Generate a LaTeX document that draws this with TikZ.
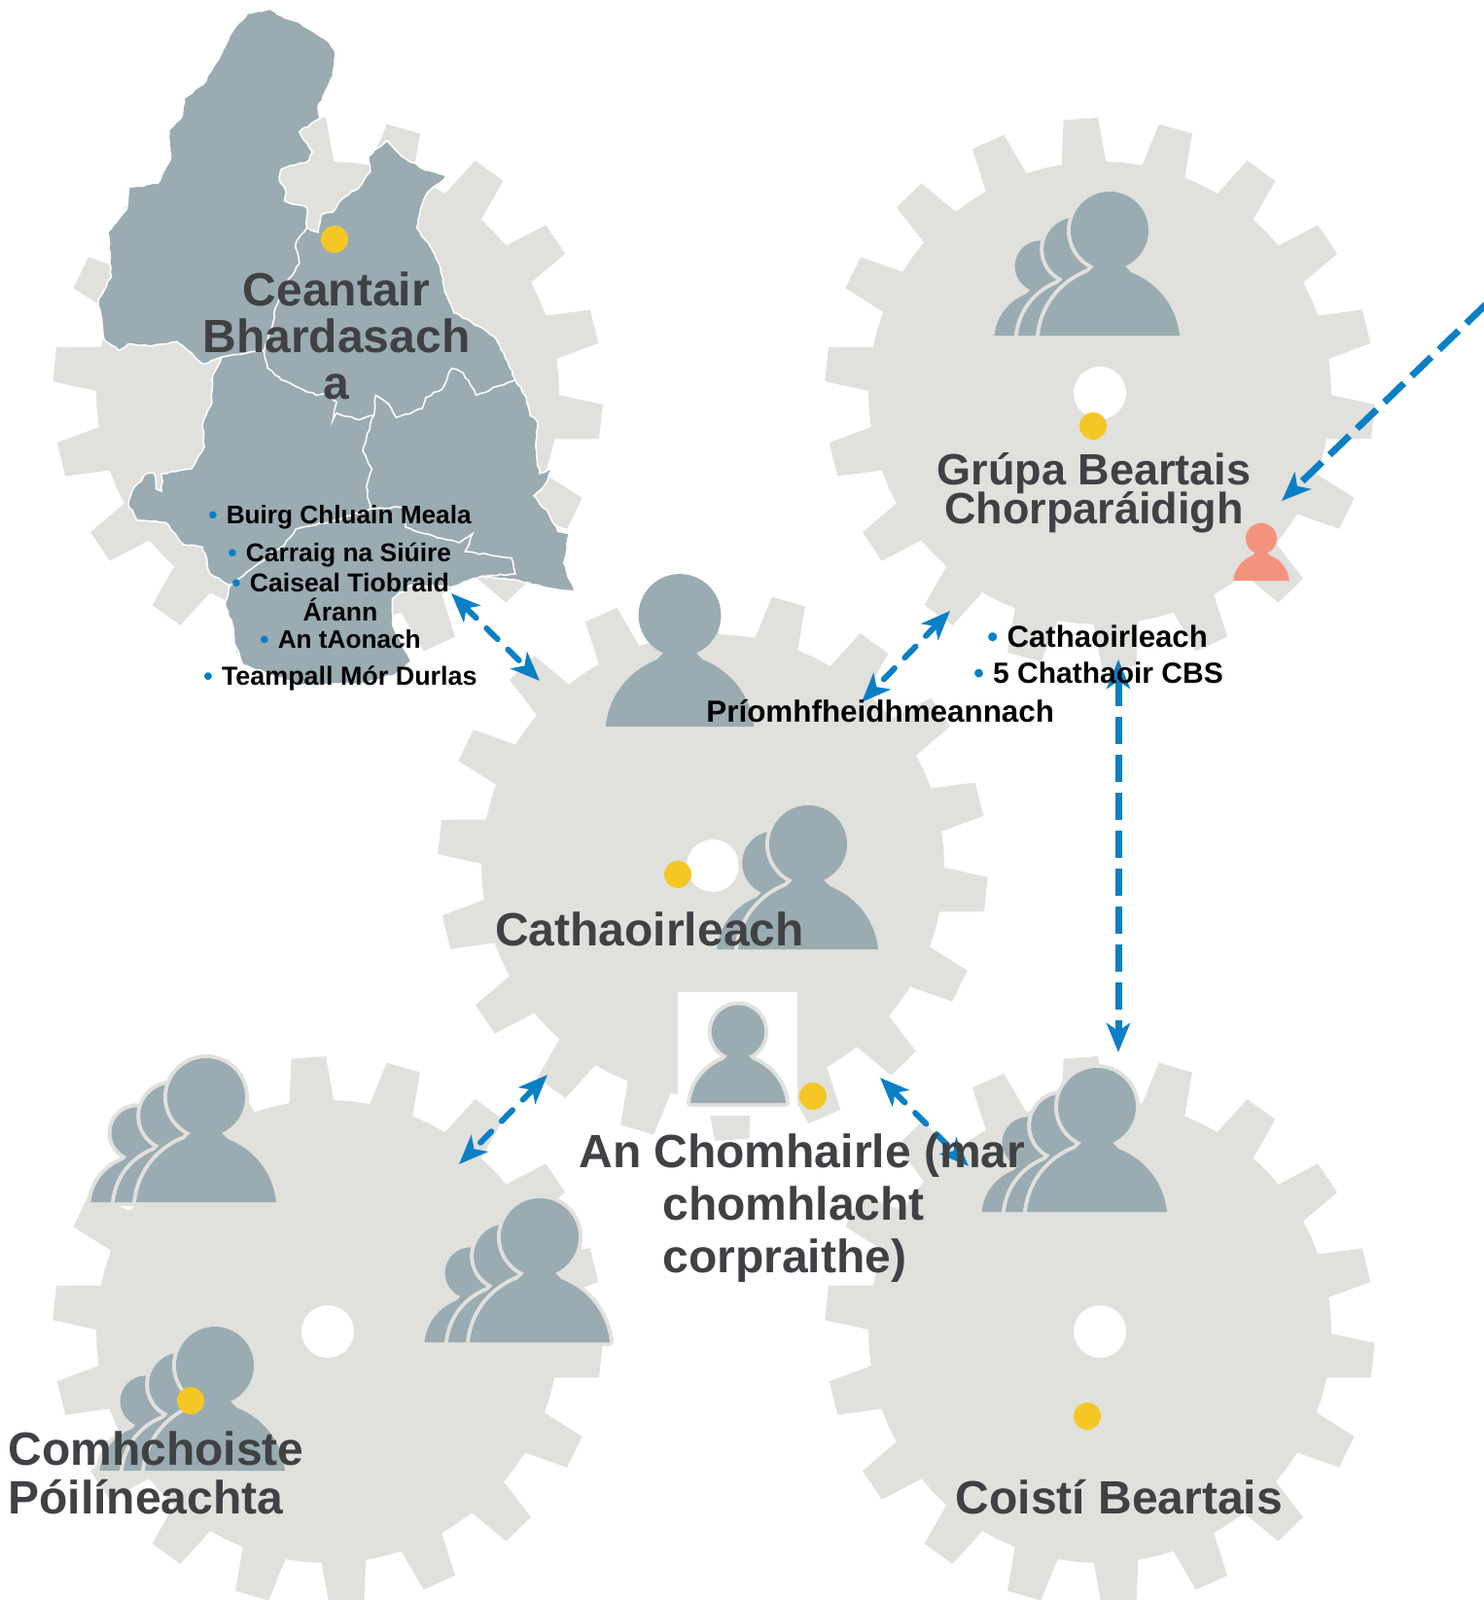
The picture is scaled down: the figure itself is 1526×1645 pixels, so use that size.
\documentclass[tikz,border=0pt]{standalone}
\usepackage{fontspec}
\setmainfont{Liberation Sans}
\usetikzlibrary{arrows.meta,decorations.pathmorphing}
\setlength{\lineskiplimit}{-100pt}
\setlength{\normallineskiplimit}{-100pt}
\definecolor{gearfill}{HTML}{E0E0DD}
\definecolor{slate}{HTML}{9AABB2}
\definecolor{sun}{HTML}{F4C724}
\definecolor{flowblue}{HTML}{0A7FC6}
\definecolor{salmon}{HTML}{F4937D}
\definecolor{inkgrey}{HTML}{404144}
\tikzset{
  flow/.style={flowblue,line width=3pt,line cap=round,dash pattern=on 8pt off 7.5pt,
    {Stealth[length=15pt,width=12pt,inset=4pt,line cap=butt,sep=0pt]}-{Stealth[length=15pt,width=12pt,inset=4pt,line cap=butt]}},
  flowlong/.style={flow,line width=3.5pt,line cap=butt,dash pattern=on 14pt off 5.5pt},
  dot/.style={circle,fill=sun,minimum size=14pt,inner sep=0pt},
  hole/.style={circle,fill=white,minimum size=27pt,inner sep=0pt},
  bigtext/.style={font=\bfseries\fontsize{24}{25}\selectfont,text=inkgrey,inner sep=0pt,align=center},
  mapedge/.style={draw=white,line width=.8pt,decorate,decoration={random steps,segment length=2.5pt,amplitude=.5pt}},
}
\newcommand{\geardraw}[2]{%
  \fill[gearfill] ({#1+238*cos(8.5)},{#2-238*sin(8.5)})
  \foreach \k [evaluate=\k as \t using 14+20*\k] in {0,...,17}{
    -- ({#1+238*cos(\t-5.5)},{#2-238*sin(\t-5.5)})
    -- ({#1+283*cos(\t-3.6)},{#2-283*sin(\t-3.6)})
    -- ({#1+283*cos(\t+3.6)},{#2-283*sin(\t+3.6)})
    -- ({#1+238*cos(\t+5.5)},{#2-238*sin(\t+5.5)})
    -- ({#1+238*cos(\t+10)},{#2-238*sin(\t+10)})
  } -- cycle;
}
% one figure: base centre x, y, scale, fill, outline colour
\newcommand{\figone}[5]{%
  \begin{scope}[shift={(#1,#2)},scale=#3]
    \path[fill=#4,preaction={draw=#5,line width=4pt,line join=round}] (-72,0)
      .. controls (-68,-35) and (-45,-56) .. (-22,-65) -- (-16,-71.3)
      .. controls (-30.5,-77.7) and (-40,-92.1) .. (-40,-108)
      .. controls (-40,-130.1) and (-22.1,-148) .. (0,-148)
      .. controls (22.1,-148) and (40,-130.1) .. (40,-108)
      .. controls (40,-92.1) and (30.5,-77.7) .. (16,-71.3)
      -- (22,-65) .. controls (45,-56) and (68,-35) .. (72,0) -- cycle;
  \end{scope}%
}
\newcommand{\figthree}[2]{%
  \figone{#1-71}{#2}{.66}{slate}{gearfill}
  \figone{#1-35}{#2}{.82}{slate}{gearfill}
  \figone{#1}{#2}{1}{slate}{gearfill}
}
\newcommand{\listitem}[5]{%
  \node[anchor=base west,inner sep=0pt,font=\bfseries\fontsize{#4}{#4}\selectfont] (#1) at (#2,#3)
    {\textcolor{flowblue}{•}\hspace*{4.6pt}#5};
}
\begin{document}
\begin{tikzpicture}[x=.5pt,y=-.5pt]
\useasboundingbox (0,0) rectangle (1526,1645);
\clip (0,0) rectangle (1526,1645);
% gears
\geardraw{337}{404}
\geardraw{1131}{404}
\geardraw{733}{890}
\geardraw{337}{1369}
\geardraw{1131}{1369}
\node[hole] (holeTR) at (1131,404) {};
\node[hole] (holeC) at (733,890) {};
\node[hole] (holeBL) at (337,1369) {};
\node[hole] (holeBR) at (1131,1369) {};
\fill[white] (697,1020) rectangle (820,1147);
% map
\begin{scope}[shift={(40,0)}]
\begin{scope}[x=.19135pt,y=-.22957pt]
\path[fill=slate,mapedge]
 (620,20) -- (660,40) -- (700,50) -- (745,75) -- (780,95) -- (797,120) -- (790,170) -- (770,205)
 -- (750,240) -- (755,265) -- (700,295) -- (735,340) -- (725,360) -- (650,380) -- (645,400)
 -- (665,430) -- (660,450) -- (720,465) -- (720,510) -- (750,520) -- (760,480) -- (790,475)
 -- (810,450) -- (860,420) -- (890,385) -- (885,350) -- (935,315) -- (975,350) -- (1025,375)
 -- (1095,395) -- (1045,430) -- (1025,470) -- (1015,510) -- (1050,550) -- (1075,590) -- (1095,660)
 -- (1115,700) -- (1180,730) -- (1225,755) -- (1260,810) -- (1280,850) -- (1310,890) -- (1320,930)
 -- (1340,945) -- (1335,1000) -- (1345,1060) -- (1380,1050) -- (1360,1085) -- (1330,1110)
 -- (1370,1150) -- (1395,1190) -- (1425,1195) -- (1410,1260) -- (1440,1325) -- (1390,1320)
 -- (1290,1300) -- (1190,1290) -- (1105,1315) -- (1000,1310) -- (950,1340) -- (950,1400)
 -- (975,1440) -- (1000,1480) -- (960,1510) -- (870,1530) -- (700,1535) -- (620,1510) -- (550,1490)
 -- (525,1440) -- (520,1400) -- (500,1350) -- (515,1310) -- (460,1285) -- (440,1225) -- (390,1220)
 -- (340,1170) -- (265,1165) -- (240,1130) -- (250,1100) -- (290,1060) -- (310,1060) -- (315,1095)
 -- (330,1100) -- (330,1060) -- (410,1050) -- (445,1000) -- (440,950) -- (465,900) -- (465,850)
 -- (490,800) -- (440,815) -- (410,790) -- (370,765) -- (300,775) -- (240,770) -- (215,785)
 -- (175,760) -- (160,670) -- (195,620) -- (185,520) -- (235,470) -- (240,420) -- (320,410)
 -- (355,350) -- (350,290) -- (385,260) -- (390,220) -- (440,190) -- (490,120) -- (520,70)
 -- (560,30) -- cycle;
\path[mapedge] (720,510) -- (690,545) -- (700,590) -- (660,640) -- (635,690) -- (630,720) -- (605,785);
\path[mapedge] (490,800) -- (605,785) -- (615,825) -- (650,850) -- (745,885) -- (770,880) -- (800,900)
 -- (790,940) -- (800,925) -- (860,940) -- (900,930) -- (905,885) -- (940,905) -- (960,935)
 -- (1030,915) -- (1040,890) -- (1085,870) -- (1110,825) -- (1140,835) -- (1175,885) -- (1280,850);
\path[mapedge] (900,930) -- (880,980) -- (870,1010) -- (895,1050) -- (880,1090) -- (890,1140);
\path[mapedge] (515,1310) -- (560,1280) -- (660,1220) -- (690,1185) -- (800,1165) -- (890,1140)
 -- (980,1135) -- (985,1180) -- (1060,1200) -- (1130,1215) -- (1165,1195) -- (1145,1235)
 -- (1270,1250) -- (1280,1285) -- (1190,1290);
\end{scope}
\end{scope}
% figures
\figthree{1141}{345}
\figone{699}{747}{1.06}{slate}{none}
\figone{796}{976}{.82}{slate}{gearfill}
\figone{831}{976}{1}{slate}{gearfill}
\figone{759}{1134}{.68}{slate}{gearfill}
\figthree{212}{1236}
\figthree{555}{1380}
\figthree{221}{1512}
\figthree{1128}{1246}
\figone{1297}{597}{.4}{salmon}{none}
% dots
\node[dot] (d1) at (344,246) {};
\node[dot] (d2) at (1124,438) {};
\node[dot] (d3) at (697,899) {};
\node[dot] (d4) at (836,1127) {};
\node[dot] (d5) at (196,1440) {};
\node[dot] (d6) at (1118,1456) {};
% connector ends
\coordinate (mapEnd) at (464,610);
\coordinate (chairA) at (555,700);
\coordinate (grupaA) at (977,628);
\coordinate (chiefEnd) at (886,722);
\coordinate (membersEnd) at (1150,678);
\coordinate (spcTop) at (1150,1082);
\coordinate (chairB) at (563,1105);
\coordinate (jpcEnd) at (472,1197);
\coordinate (chairC) at (905,1108);
\coordinate (spcLeft) at (996,1199);
\coordinate (offPage) at (1528,313);
\coordinate (grupaB) at (1318,515);
\draw[flow] (mapEnd) -- (chairA);
\draw[flow] (grupaA) -- (chiefEnd);
\draw[flowlong] (membersEnd) -- (spcTop);
\draw[flow] (chairB) -- (jpcEnd);
\draw[flow] (chairC) -- (spcLeft);
\draw[flowlong,arrows=-{Stealth[length=15pt,width=12pt,inset=4pt]}] (offPage) -- (grupaB);
% big labels
\node[bigtext,font=\bfseries\fontsize{24}{24}\selectfont] (tCeantair) at (346,345) {Ceantair\\Bhardasach\\a};
\node[bigtext,font=\bfseries\fontsize{22.5}{20}\selectfont] (tGrupa) at (1125,507) {Grúpa Beartais\\Chorparáidigh};
\node[bigtext] (tChair) at (668,955) {Cathaoirleach};
\node[bigtext,align=left,anchor=west,font=\bfseries\fontsize{24}{27}\selectfont] (tChomh) at (595,1242) {An Chomhairle (mar\\\hspace*{43pt}chomhlacht\\\hspace*{43pt}corpraithe)};
\node[bigtext,align=left,anchor=west] (tPol) at (8,1514) {Comhchoiste\\Póilíneachta};
\node[bigtext] (tCoisti) at (1151,1539) {Coistí Beartais};
% small labels
\listitem{a1}{214}{538}{13.1}{Buirg Chluain Meala}
\listitem{a2}{234}{577}{13.2}{Carraig na Siúire}
\listitem{a3}{238}{608}{13.3}{Caiseal Tiobraid}
\node[anchor=base,inner sep=0pt,font=\bfseries\fontsize{13.3}{13.3}\selectfont] (a3b) at (350,638) {Árann};
\listitem{a4}{267}{666}{13.1}{An tAonach}
\listitem{a5}{209}{704}{13.45}{Teampall Mór Durlas}
\listitem{b1}{1015}{665}{15.6}{Cathaoirleach}
\listitem{b2}{1001}{702}{15}{5 Chathaoir CBS}
\node[anchor=base west,inner sep=0pt,font=\bfseries\fontsize{15.7}{15.7}\selectfont] (tChief) at (726,742) {Príomhfheidhmeannach};
\end{tikzpicture}
\end{document}
